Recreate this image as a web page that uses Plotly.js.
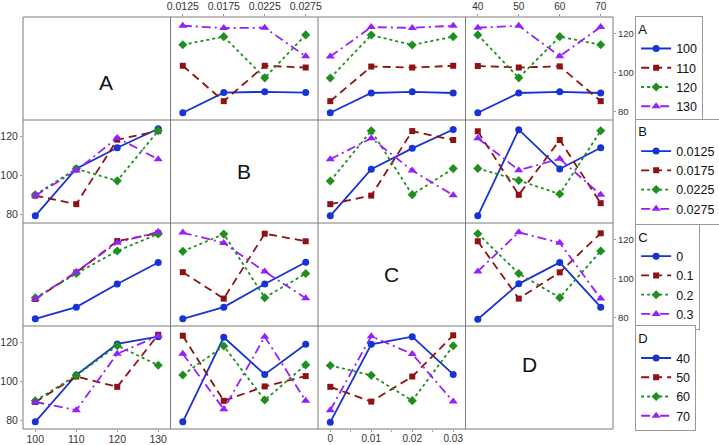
<!DOCTYPE html>
<html>
<head>
<meta charset="utf-8">
<script src="https://cdn.plot.ly/plotly-3.0.1.min.js"></script>
<style>html,body{margin:0;padding:0;background:#fff;}#chart{width:719px;height:445px;}</style>
</head>
<body>
<div id="chart"></div>
<script>
// ---- data ----
const factorNames = ['A', 'B', 'C', 'D'];
const levelsA = ['100', '110', '120', '130'];
const levelsB = ['0.0125', '0.0175', '0.0225', '0.0275'];
const levelsC = ['0', '0.1', '0.2', '0.3'];
const levelsD = ['40', '50', '60', '70'];
// x positions / tick labels as printed on each factor's axis
const xA = [100, 110, 120, 130];
const xB = [0.0125, 0.0175, 0.0225, 0.0275];
const xC = [0, 0.01, 0.02, 0.03];
const xD = [40, 50, 60, 70];
const tickA = ['100', '110', '120', '130'];
const tickB = ['0.0125', '0.0175', '0.0225', '0.0275'];
const tickC = ['0', '0.01', '0.02', '0.03'];
const tickD = ['40', '50', '60', '70'];
const yTicks = [80, 100, 120];

// mean response tables: rows = levels of first factor, columns = levels of second factor
const AB = [
  [79.2, 89.6, 90.0, 89.6],
  [103.4, 85.2, 103.4, 102.5],
  [114.2, 118.4, 97.2, 119.3],
  [124.0, 122.8, 123.0, 108.3]
];
const AC = [
  [79.2, 89.4, 90.0, 89.4],
  [85.2, 103.0, 102.5, 103.4],
  [97.1, 119.2, 114.1, 118.4],
  [108.2, 123.3, 122.9, 124.0]
];
const AD = [
  [79.2, 89.4, 90.0, 89.4],
  [103.3, 102.5, 103.1, 85.2],
  [119.3, 97.2, 118.4, 114.2],
  [123.0, 124.0, 108.3, 123.4]
];
const BC = [
  [79.2, 103.2, 113.9, 123.6],
  [85.2, 89.6, 122.8, 118.2],
  [97.1, 123.0, 90.1, 103.5],
  [108.3, 119.1, 102.5, 89.8]
];
const BD = [
  [79.2, 123.5, 103.3, 114.2],
  [122.7, 90.0, 118.2, 85.7],
  [103.6, 97.4, 90.4, 123.0],
  [119.1, 102.7, 108.5, 90.0]
];
const CD = [
  [79.0, 97.2, 108.2, 85.2],
  [119.1, 89.6, 103.1, 123.2],
  [123.0, 102.5, 90.1, 114.1],
  [103.6, 123.7, 118.3, 89.6]
];

// ---- build ----
const levels = {A: levelsA, B: levelsB, C: levelsC, D: levelsD};
const xs = {A: xA, B: xB, C: xC, D: xD};
const ticks = {A: tickA, B: tickB, C: tickC, D: tickD};
const tables = {AB: AB, AC: AC, AD: AD, BC: BC, BD: BD, CD: CD};
function transpose(m) { return m[0].map((_, c) => m.map(r => r[c])); }
function pairTable(f, g) {
  if (tables[f + g]) return tables[f + g];
  return transpose(tables[g + f]);
}
const xRanges = {A: [97, 133], B: [0.011, 0.029], C: [-0.003, 0.033], D: [37, 73]};
const yRange = [75.5, 128.5];

const styles = [
  {color: '#1634d4', dash: 'solid', symbol: 'circle', size: 7},
  {color: '#8e1212', dash: '8px,5px', symbol: 'square', size: 6},
  {color: '#1f8f1f', dash: '3px,3px', symbol: 'diamond', size: 7},
  {color: '#9520ff', dash: '9px,4px,2px,4px', symbol: 'triangle-up', size: 8}
];
const legendIds = ['legend', 'legend2', 'legend3', 'legend4'];
const FONT = 'Arial, "Liberation Sans", sans-serif';

const traces = [];
const layout = {
  width: 719, height: 445,
  margin: {l: 23, r: 106, t: 17, b: 16, autoexpand: false},
  paper_bgcolor: '#fff', plot_bgcolor: 'rgba(0,0,0,0)',
  font: {family: FONT, color: '#333'},
  showlegend: true,
  shapes: [], annotations: []
};

let n = 0;
const legendShown = {};
for (let i = 0; i < 4; i++) {
  for (let j = 0; j < 4; j++) {
    const xd = [j / 4, (j + 1) / 4];
    const yd = [1 - (i + 1) / 4, 1 - i / 4];
    if (i === j) {
      layout.annotations.push({
        xref: 'paper', yref: 'paper', x: (xd[0] + xd[1]) / 2, y: (yd[0] + yd[1]) / 2,
        text: factorNames[i], showarrow: false, font: {size: 21, color: '#111', family: FONT}
      });
      continue;
    }
    n++;
    const xid = 'x' + (n === 1 ? '' : n), yid = 'y' + (n === 1 ? '' : n);
    const xkey = 'xaxis' + (n === 1 ? '' : n), ykey = 'yaxis' + (n === 1 ? '' : n);
    const f = factorNames[i], g = factorNames[j];
    const tbl = pairTable(f, g);
    const showLeg = !legendShown[f];
    legendShown[f] = true;
    for (let k = 0; k < 4; k++) {
      const s = styles[k];
      traces.push({
        type: 'scatter', mode: 'lines+markers',
        x: xs[g], y: tbl[k], xaxis: xid, yaxis: yid,
        name: levels[f][k], legend: legendIds[i], showlegend: showLeg,
        line: {color: s.color, dash: s.dash, width: 1.8},
        marker: {color: s.color, symbol: s.symbol, size: s.size},
        cliponaxis: false, hoverinfo: 'x+y+name'
      });
    }
    const topLab = (i === 0 && (j === 1 || j === 3));
    const botLab = (i === 3 && (j === 0 || j === 2));
    const leftLab = (j === 0 && (i === 1 || i === 3));
    const rightLab = (j === 3 && (i === 0 || i === 2));
    const xfs = (j === 0 || j === 1) ? 10.5 : 10;
    layout[xkey] = {
      domain: xd, range: xRanges[g], anchor: yid,
      showgrid: false, zeroline: false, showline: false,
      tickmode: 'array', tickvals: xs[g], ticktext: ticks[g],
      showticklabels: topLab || botLab, side: topLab ? 'top' : 'bottom',
      ticks: (topLab || botLab) ? 'outside' : '', ticklen: 2, tickcolor: '#999', tickwidth: 1,
      ticklabelstandoff: botLab ? -2 : 0,
      tickfont: {size: xfs, color: '#333', family: FONT}, fixedrange: true
    };
    if (g === 'C' && botLab) {
      layout[xkey].minor = {tickvals: [0.005, 0.015, 0.025], ticks: 'outside', ticklen: 2, tickcolor: '#aaa', showgrid: false};
    }
    layout[ykey] = {
      domain: yd, range: yRange, anchor: xid,
      showgrid: false, zeroline: false, showline: false,
      tickmode: 'array', tickvals: yTicks,
      showticklabels: leftLab || rightLab, side: rightLab ? 'right' : 'left',
      ticks: (leftLab || rightLab) ? 'outside' : '', ticklen: 2, tickcolor: '#999', tickwidth: 1,
      tickfont: {size: rightLab ? 9.5 : 10.5, color: '#333', family: FONT}, fixedrange: true
    };
  }
}

// panel borders
const bc = '#7a7a7a';
layout.shapes.push({type: 'rect', xref: 'paper', yref: 'paper', x0: 0, x1: 1, y0: 0, y1: 1, line: {color: bc, width: 1}});
for (let q = 1; q < 4; q++) {
  layout.shapes.push({type: 'line', xref: 'paper', yref: 'paper', x0: q / 4, x1: q / 4, y0: 0, y1: 1, line: {color: bc, width: 1}});
  layout.shapes.push({type: 'line', xref: 'paper', yref: 'paper', x0: 0, x1: 1, y0: q / 4, y1: q / 4, line: {color: bc, width: 1}});
}

// legends (vertically centred on the reference boxes)
const legX = 1.0375;
const legY = [0.8738, 0.625, 0.3697, 0.1226];
for (let i = 0; i < 4; i++) {
  layout[legendIds[i]] = {
    x: legX, y: legY[i], xref: 'paper', yref: 'paper', xanchor: 'left', yanchor: 'middle',
    bgcolor: '#fff', bordercolor: '#999', borderwidth: 1,
    font: {size: 12.5, color: '#111', family: FONT},
    title: {text: factorNames[i], font: {size: 13, color: '#111', family: FONT}},
    itemwidth: 30, tracegroupgap: 0, itemclick: false, itemdoubleclick: false
  };
}

Plotly.newPlot('chart', traces, layout, {displayModeBar: false, staticPlot: true});
</script>
</body>
</html>
